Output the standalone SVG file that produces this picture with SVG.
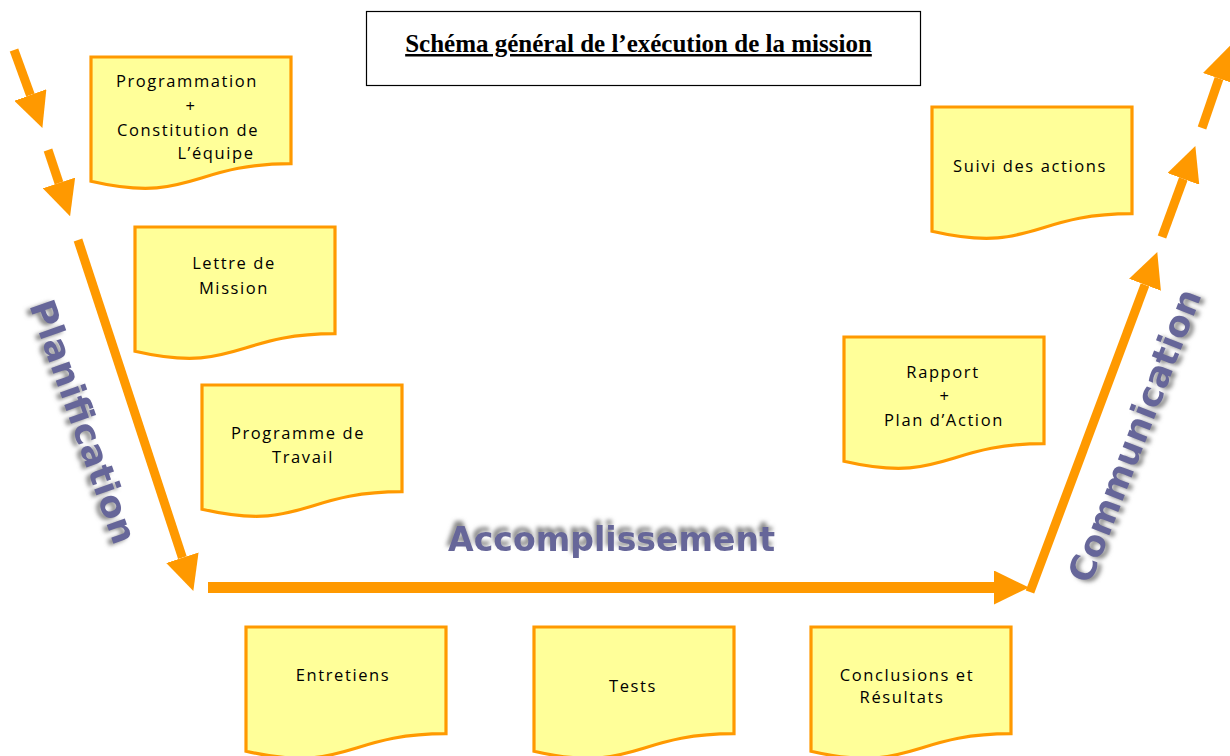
<svg xmlns="http://www.w3.org/2000/svg" xmlns:xlink="http://www.w3.org/1999/xlink" width="1230" height="756" viewBox="0 0 1230 756">
<style>
.doc{fill:#FFFF99;stroke:#FF9900;stroke-width:3.2}
.dt{font-family:"Open Sans","Noto Sans",sans-serif;font-size:16.5px;letter-spacing:1.6px;fill:#000;text-anchor:middle}
.big{font-family:"DejaVu Sans",Verdana,sans-serif;font-weight:bold;fill:#666699}
.shaft{stroke:#FF9900;fill:none;stroke-linecap:butt}
.title{font-family:"Liberation Serif","Times New Roman",serif;font-weight:bold;font-size:25px;text-decoration:underline;text-anchor:middle}
</style>
<defs>
<path id="doc" d="M0,0 H200 V106.7 C100,106.7 100,147.3 0,124.2 Z"/>
<marker id="head" markerUnits="userSpaceOnUse" markerWidth="36" markerHeight="34" viewBox="0 0 36 34" refX="0" refY="17" orient="auto">
<path d="M0,0 L35,17 L0,34 Z" fill="#FF9900"/>
</marker>
<filter id="sh" x="-20%" y="-20%" width="140%" height="140%">
<feGaussianBlur in="SourceAlpha" stdDeviation="2"/>
<feOffset dx="-2" dy="-5" result="o"/>
<feFlood flood-color="#888"/>
<feComposite in2="o" operator="in"/>
<feMerge><feMergeNode/><feMergeNode in="SourceGraphic"/></feMerge>
</filter>
<filter id="shL" x="-20%" y="-20%" width="140%" height="140%">
<feGaussianBlur in="SourceAlpha" stdDeviation="2"/>
<feOffset dx="-4" dy="2" result="o"/>
<feFlood flood-color="#888"/>
<feComposite in2="o" operator="in"/>
<feMerge><feMergeNode/><feMergeNode in="SourceGraphic"/></feMerge>
</filter>
<filter id="shR" x="-20%" y="-20%" width="140%" height="140%">
<feGaussianBlur in="SourceAlpha" stdDeviation="2"/>
<feOffset dx="4" dy="2" result="o"/>
<feFlood flood-color="#888"/>
<feComposite in2="o" operator="in"/>
<feMerge><feMergeNode/><feMergeNode in="SourceGraphic"/></feMerge>
</filter>
</defs>
<rect width="1230" height="756" fill="#fff"/>

<g id="title">
<rect x="366.5" y="11.5" width="554" height="74" fill="#fff" stroke="#000" stroke-width="1.2"/>
<text class="title" x="638.5" y="52">Schéma général de l’exécution de la mission</text>
</g>

<g id="connectors">
<line class="shaft" stroke-width="9" x1="14" y1="50" x2="30.4" y2="95" marker-end="url(#head)"/>
<line class="shaft" stroke-width="9" x1="48" y1="150" x2="59" y2="183" marker-end="url(#head)"/>
<line class="shaft" stroke-width="9" x1="78" y1="240" x2="182.4" y2="557.7" marker-end="url(#head)"/>
<line class="shaft" stroke-width="11" x1="208" y1="587.5" x2="994" y2="587.5" marker-end="url(#head)"/>
<line class="shaft" stroke-width="9" x1="1030" y1="592" x2="1145" y2="284.8" marker-end="url(#head)"/>
<line class="shaft" stroke-width="9" x1="1162" y1="237" x2="1183.3" y2="178.9" marker-end="url(#head)"/>
<line class="shaft" stroke-width="9" x1="1202" y1="128" x2="1219" y2="78.5" marker-end="url(#head)"/>
</g>

<g id="labels">
<g filter="url(#shL)"><text class="big" font-size="35" transform="translate(29,305) rotate(70.5)" textLength="256" lengthAdjust="spacingAndGlyphs">Planification</text></g>
<g filter="url(#sh)"><text class="big" font-size="33" x="448" y="551" textLength="327" lengthAdjust="spacingAndGlyphs">Accomplissement</text></g>
<g filter="url(#shR)"><text class="big" font-size="35" transform="translate(1090,585) rotate(-68.9)" textLength="311" lengthAdjust="spacingAndGlyphs">Communication</text></g>
</g>

<g id="n-programmation">
<use href="#doc" class="doc" transform="translate(91,57)"/>
<text class="dt" x="187" y="87">Programmation</text>
<text class="dt" x="191" y="112">+</text>
<text class="dt" x="188" y="136">Constitution de</text>
<text class="dt" x="216" y="159">L’équipe</text>
</g>
<g id="n-lettre">
<use href="#doc" class="doc" transform="translate(135,227)"/>
<text class="dt" x="234" y="269">Lettre de</text>
<text class="dt" x="234" y="294">Mission</text>
</g>
<g id="n-programme">
<use href="#doc" class="doc" transform="translate(202,385)"/>
<text class="dt" x="298" y="439">Programme de</text>
<text class="dt" x="303" y="463">Travail</text>
</g>
<g id="n-suivi">
<use href="#doc" class="doc" transform="translate(932,107)"/>
<text class="dt" x="1030" y="172">Suivi des actions</text>
</g>
<g id="n-rapport">
<use href="#doc" class="doc" transform="translate(844,337)"/>
<text class="dt" x="943" y="378">Rapport</text>
<text class="dt" x="945" y="402">+</text>
<text class="dt" x="944" y="426">Plan d’Action</text>
</g>
<g id="n-entretiens">
<use href="#doc" class="doc" transform="translate(246,627)"/>
<text class="dt" x="343" y="681">Entretiens</text>
</g>
<g id="n-tests">
<use href="#doc" class="doc" transform="translate(534,627)"/>
<text class="dt" x="633" y="692">Tests</text>
</g>
<g id="n-conclusions">
<use href="#doc" class="doc" transform="translate(811,627)"/>
<text class="dt" x="907" y="681">Conclusions et</text>
<text class="dt" x="902" y="703">Résultats</text>
</g>
</svg>
